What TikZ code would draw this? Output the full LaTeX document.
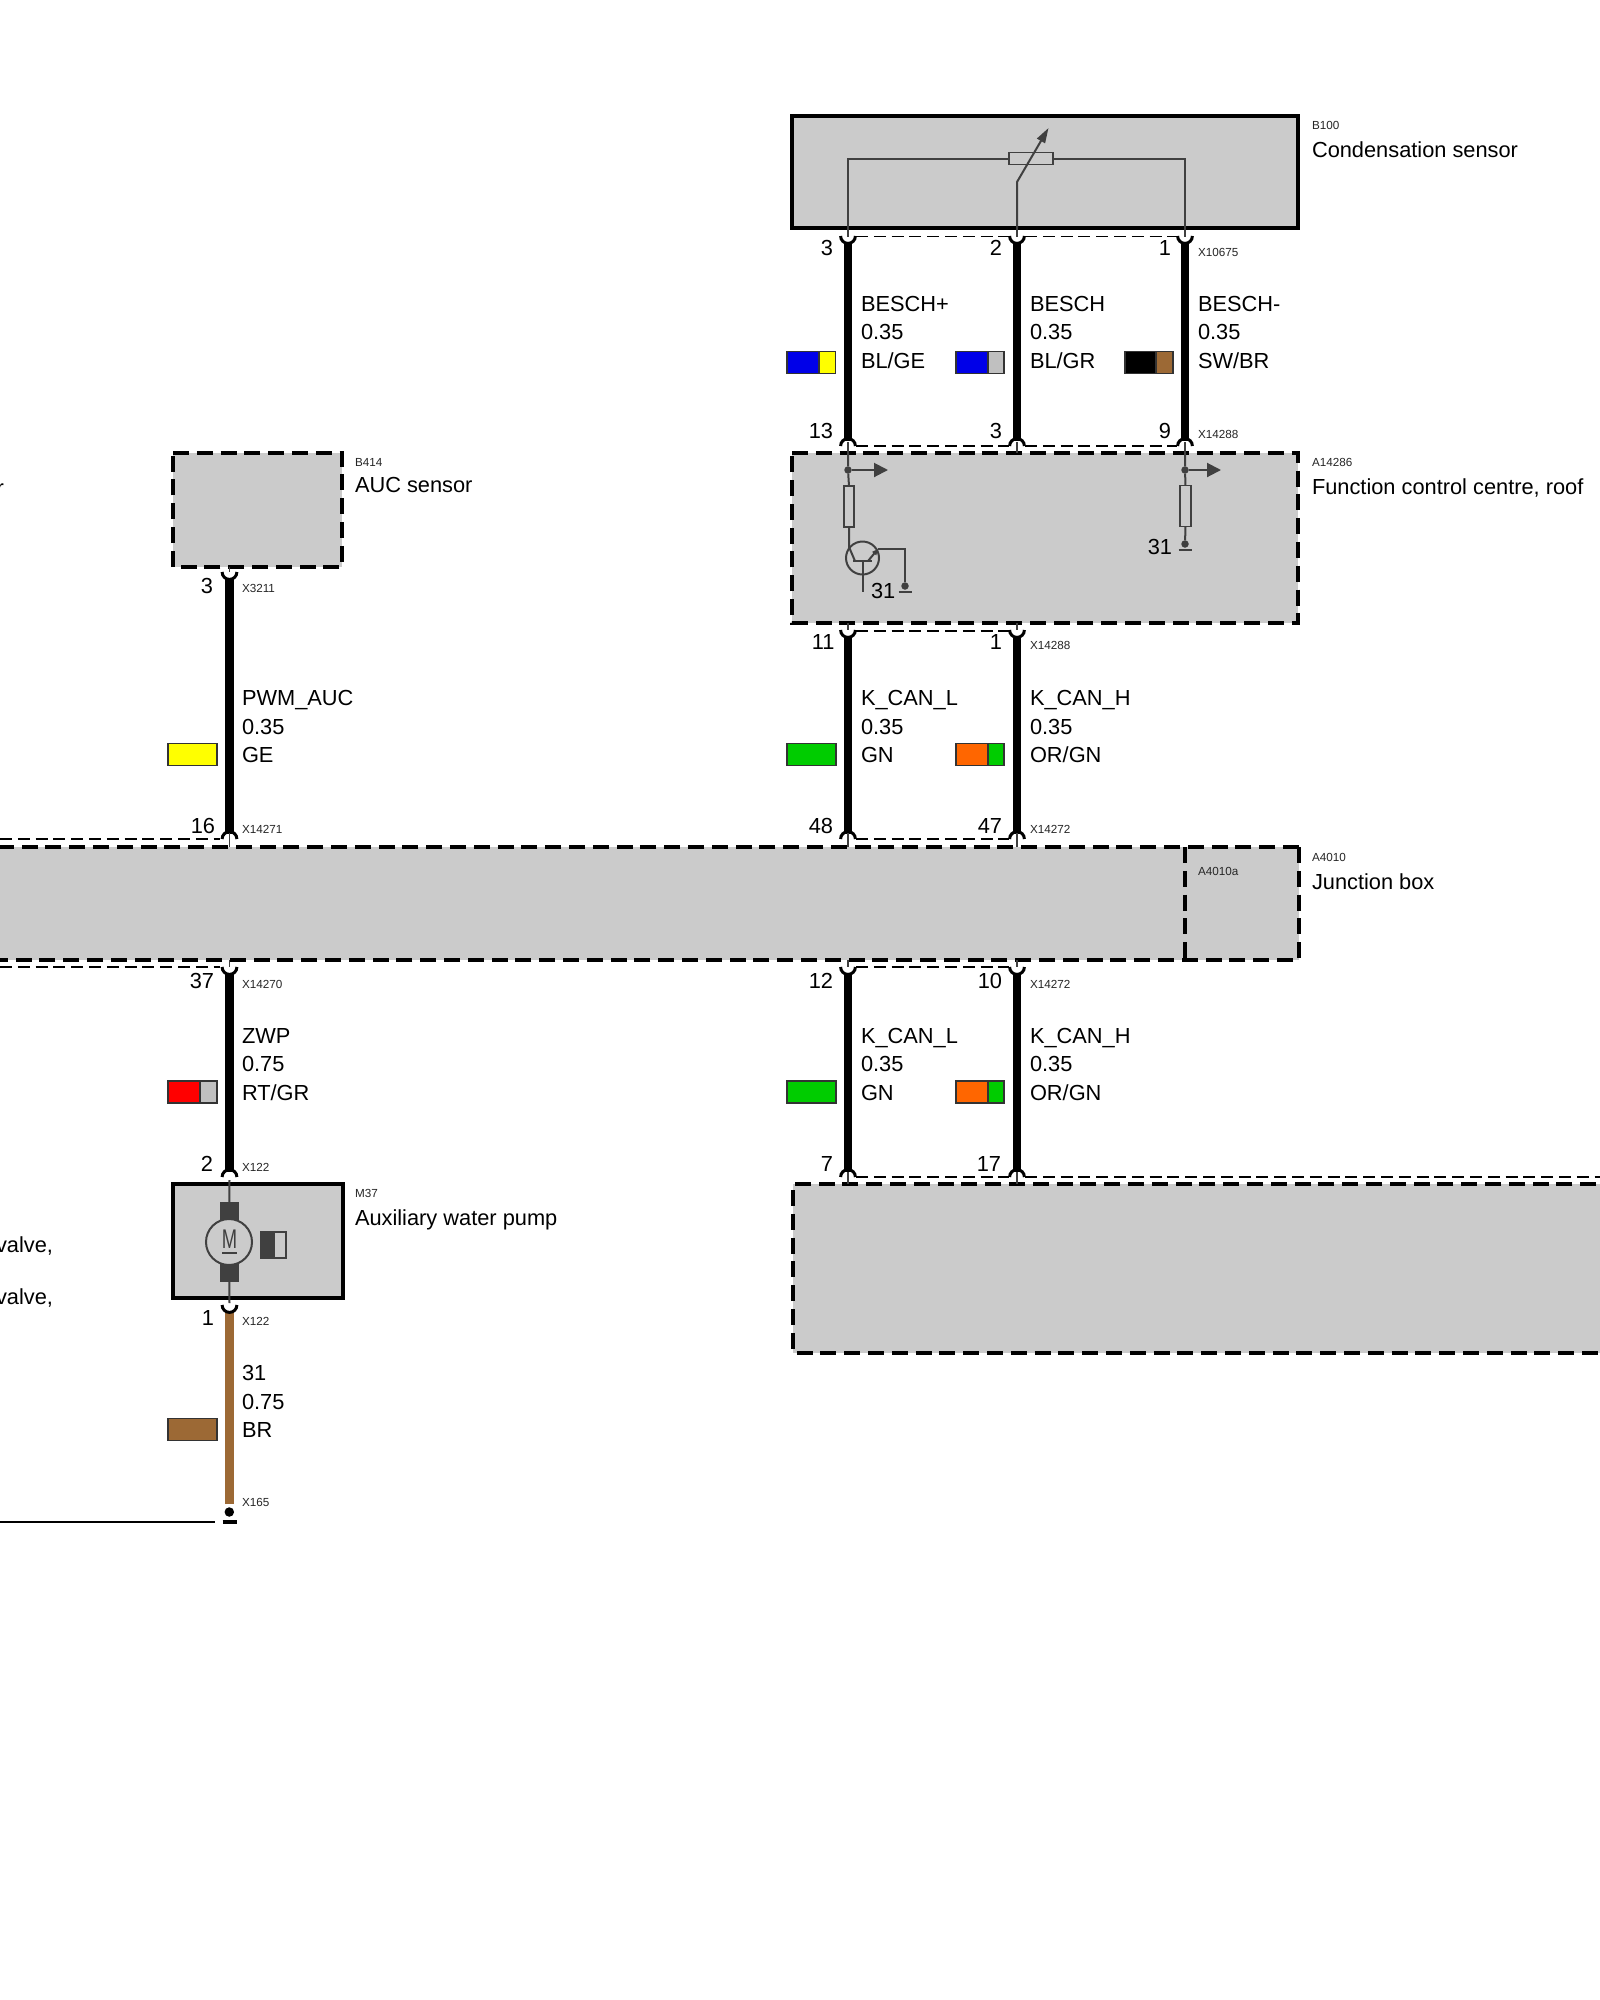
\documentclass[tikz,border=0pt]{standalone}
\usepackage{fontspec}
\setmainfont{Liberation Sans}
\usetikzlibrary{arrows.meta}
\definecolor{boxgray}{HTML}{CBCBCB}
\definecolor{ink}{HTML}{404040}
\definecolor{wbrown}{HTML}{9C6935}
\definecolor{wblue}{HTML}{0000E8}
\definecolor{wgreen}{HTML}{00CC00}
\definecolor{worange}{HTML}{FF6600}
\definecolor{wred}{HTML}{FF0000}
\definecolor{wyellow}{HTML}{FFFF00}
\definecolor{wgray}{HTML}{C0C0C0}
\tikzset{
  x=1pt,y=-1pt,
  solidbox/.style={draw=black,fill=boxgray,line width=4.4pt,anchor=north west,inner sep=0pt,outer sep=0pt},
  dashbox/.style={draw=none,fill=boxgray,anchor=north west,inner sep=0pt,outer sep=0pt},
  bdash/.style={draw=black,line width=4.4pt,dash pattern=on 16pt off 7.8pt},
  tdash/.style={draw=black,line width=1.7pt,dash pattern=on 12pt off 5.8pt},
  wire/.style={line width=8.2pt,draw=black},
  fine/.style={draw=ink,line width=2pt},
  lip/.style={draw=black,line width=3pt},
  big/.style={font=\fontsize{21.8}{28.4}\selectfont,inner sep=0pt,outer sep=0pt,anchor=base west,align=left},
  bigr/.style={font=\fontsize{21.8}{28.4}\selectfont,inner sep=0pt,outer sep=0pt,anchor=base east},
  small/.style={font=\fontsize{11.7}{13}\selectfont,inner sep=0pt,outer sep=0pt,anchor=base west,text=black!85},
  sw/.style={draw=black!80,line width=1.6pt},
  dotn/.style={circle,fill=ink,inner sep=0pt,minimum size=7.5pt,outer sep=0pt},
  flow/.style={fine,-{Triangle[length=14pt,width=14pt]}},
  res/.style={draw=ink,line width=1.8pt,fill=boxgray,inner sep=0pt,outer sep=0pt},
}
% pin openings below a part (cup) and above a part (cap)
\newcommand{\pincup}[1]{\draw[lip] ([xshift=-7.4pt]#1) arc[start angle=180,end angle=360,radius=7.4pt];}
\newcommand{\pincap}[1]{\draw[lip] ([xshift=-7.4pt]#1) arc[start angle=180,end angle=0,radius=7.4pt];}
% #1 name, #2 x, #3 y of cup centre, #4 y of cap centre, #5 colour
\newcommand{\run}[5]{%
  \coordinate (#1u) at (#2,#3); \coordinate (#1d) at (#2,#4);
  \coordinate (#1s) at (#2,#3+6); \coordinate (#1e) at (#2,#4-5);
  \draw[wire,draw=#5] (#1s) -- (#1e);
  \pincup{#1u} \pincap{#1d}}
% #1 left, #2 split, #3 right, #4 y centre, #5 #6 colours
\newcommand{\swatch}[6]{%
  \draw[sw,fill=#5] (#1,#4-11) rectangle (#2,#4+11);
  \draw[sw,fill=#6] (#2,#4-11) rectangle (#3,#4+11);}
\newcommand{\swatchone}[4]{\draw[sw,fill=#4] (#1,#3-11) rectangle (#2,#3+11);}
\newcommand{\gnd}[3]{% #1 name, #2 x, #3 y
  \node[dotn] (#1) at (#2,#3) {};
  \draw[draw=ink,line width=1.8pt] ([xshift=-6.5pt,yshift=-6pt]#1.center) -- ([xshift=6.5pt,yshift=-6pt]#1.center);}
\begin{document}
\begin{tikzpicture}
\useasboundingbox (0,0) rectangle (1600,2000);
\clip (0,0) rectangle (1600,2000);
\fill[white] (0,0) rectangle (1600,2000);

% ---------- parts
\node[solidbox,minimum width=506pt,minimum height=112pt] (b100) at (792,116) {};
\node[dashbox,minimum width=506pt,minimum height=170pt] (a14286) at (792,453) {};
\draw[bdash] (a14286.north west) -- (a14286.north east) -- (a14286.south east) -- (a14286.south west) -- cycle;
\node[dashbox,minimum width=169pt,minimum height=114pt] (b414) at (173,453) {};
\draw[bdash] (b414.north west) -- (b414.north east) -- (b414.south east) -- (b414.south west) -- cycle;
\node[dashbox,minimum width=1320pt,minimum height=113pt] (a4010) at (-21,847) {};
\draw[bdash] (a4010.north east) -- (a4010.south east) -- (a4010.south west);
\draw[bdash] (a4010.north east) -- (a4010.north west);
\coordinate (divt) at (1185,847); \coordinate (divb) at (1185,960);
\draw[bdash] (divt) -- (divb);
\node[solidbox,minimum width=170pt,minimum height=114pt] (m37) at (173,1184) {};
\node[dashbox,minimum width=827pt,minimum height=169pt] (lower) at (793,1184) {};
\draw[bdash] (lower.north east) -- (lower.north west) -- (lower.south west) -- (lower.south east);

% ---------- thin dashed connector outlines
\coordinate (d1a) at (856,236.5); \coordinate (d1b) at (1009,236.5);
\coordinate (d1c) at (1025,236.5); \coordinate (d1d) at (1177,236.5);
\draw[tdash] (d1a) -- (d1b); \draw[tdash] (d1c) -- (d1d);
\coordinate (d2a) at (856,446); \coordinate (d2b) at (1009,446);
\coordinate (d2c) at (1025,446); \coordinate (d2d) at (1177,446);
\draw[tdash] (d2a) -- (d2b); \draw[tdash] (d2c) -- (d2d);
\coordinate (d3a) at (856,631); \coordinate (d3b) at (1009,631);
\draw[tdash] (d3a) -- (d3b);
\coordinate (d4a) at (856,839); \coordinate (d4b) at (1009,839);
\draw[tdash] (d4a) -- (d4b);
\coordinate (d5a) at (856,967); \coordinate (d5b) at (1009,967);
\draw[tdash] (d5a) -- (d5b);
\coordinate (d6a) at (0,839); \coordinate (d6b) at (220,839);
\draw[tdash] (d6a) -- (d6b);
\coordinate (d7a) at (0,967); \coordinate (d7b) at (220,967);
\draw[tdash] (d7a) -- (d7b);
\coordinate (d8a) at (856,1177); \coordinate (d8b) at (1009,1177);
\coordinate (d8c) at (1025,1177); \coordinate (d8d) at (1600,1177);
\draw[tdash] (d8a) -- (d8b); \draw[tdash] (d8c) -- (d8d);

% ---------- harness wires
\run{w1}{848}{236}{446}{black}
\run{w2}{1017}{236}{446}{black}
\run{w3}{1185}{236}{446}{black}
\run{w4}{848}{630}{839}{black}
\run{w5}{1017}{630}{839}{black}
\run{w6}{229.5}{572}{839}{black}
\run{w7}{229.5}{967}{1177}{black}
\run{w8}{848}{967}{1177}{black}
\run{w9}{1017}{967}{1177}{black}
\coordinate (w10u) at (229.5,1305);
\coordinate (w10s) at (229.5,1312);
\coordinate (w10e) at (229.5,1504);
\draw[wire,draw=wbrown] (w10s) -- (w10e);
\pincup{w10u}

% ---------- stubs through the outlines
\foreach \a/\ya/\yb in {848/228/237,1017/228/237,1185/228/237,848/442/453,1017/442/453,1185/442/453,848/623/630,1017/623/630,229.5/567/572,229.5/833/847,848/833/847,1017/833/847,229.5/960/967,848/960/967,1017/960/967,848/1172/1184,1017/1172/1184}
  \draw[draw=ink,line width=1.5pt] (\a,\ya) -- (\a,\yb);

% ---------- B100 interior
\node[res,minimum width=44pt,minimum height=12pt] (rvar) at (1031,158.5) {};
\coordinate (p3) at (848,228); \coordinate (p3c) at (848,158.5);
\coordinate (p1) at (1185,228); \coordinate (p1c) at (1185,158.5);
\draw[fine] (p3) -- (p3c) -- (rvar.west);
\draw[fine] (p1) -- (p1c) -- (rvar.east);
\coordinate (p2) at (1017,228); \coordinate (p2k) at (1017,182); \coordinate (p2t) at (1048.5,128);
\draw[fine,-{Triangle[length=15pt,width=9pt]}] (p2) -- (p2k) -- (p2t);

% ---------- A14286 interior
\node[dotn] (jl) at (848,470) {};
\node[dotn] (jr) at (1185,470) {};
\coordinate (jlt) at (848,453); \coordinate (jrt) at (1185,453);
\coordinate (al) at (888,470); \coordinate (ar) at (1221,470);
\draw[flow] (jl) -- (al);
\draw[flow] (jr) -- (ar);
\node[res,minimum width=10.5pt,minimum height=41pt] (rl) at (849,506.5) {};
\node[res,minimum width=10.5pt,minimum height=41pt] (rr) at (1185.5,506) {};
\draw[fine] (jlt) -- (jl) -- (rl.north);
\draw[fine] (jrt) -- (jr) -- (rr.north);
\gnd{g1}{1185}{544}
\draw[fine] (rr.south) -- (g1);
\node[circle,draw=ink,line width=2pt,minimum size=33pt,inner sep=0pt,outer sep=0pt] (tr) at (862.5,558) {};
\coordinate (trc) at (849,547); \coordinate (trd) at (855,561);
\draw[fine] (rl.south) -- (trc) -- (trd);
\coordinate (bl) at (853,561); \coordinate (brr) at (872,561); \coordinate (bm) at (862.5,561); \coordinate (bb) at (862.5,592);
\draw[fine] (bl) -- (brr); \draw[fine] (bm) -- (bb);
\coordinate (em) at (868,561); \coordinate (et) at (878,549); \coordinate (ek) at (905,549);
\draw[fine,-{Triangle[length=6pt,width=5pt]}] (em) -- (et);
\gnd{g2}{905}{586}
\draw[fine] (et) -- (ek) -- (g2);

% ---------- M37 interior
\coordinate (mt) at (229.5,1184); \coordinate (mb) at (229.5,1298);
\node[fill=ink,minimum width=18.5pt,minimum height=20pt,inner sep=0pt,outer sep=0pt] (brt) at (229.3,1212) {};
\node[fill=ink,minimum width=18.5pt,minimum height=19pt,inner sep=0pt,outer sep=0pt] (brb) at (229.3,1272.5) {};
\coordinate (mtt) at (229.5,1180); \coordinate (mbb) at (229.5,1303);
\draw[fine] (mtt) -- (brt.north);
\draw[fine] (brb.south) -- (mbb);
\node[circle,draw=ink,fill=boxgray,line width=2pt,minimum size=46pt,inner sep=0pt,outer sep=0pt] (motor) at (229,1242) {};
\node[inner sep=0pt,outer sep=0pt,font=\fontsize{27}{27}\selectfont,text=ink,xscale=.68] (mm) at (229.5,1239.5) {M};
\coordinate (mul) at (222,1253); \coordinate (mur) at (237,1253);
\draw[draw=ink,line width=1.6pt] (mul) -- (mur);
\draw[draw=ink,line width=1.6pt,fill=ink] (261,1232) rectangle (274,1258);
\draw[draw=ink,line width=1.6pt] (274,1232) rectangle (286,1258);

% ---------- ground at the end of the brown wire
\node[circle,fill=black,inner sep=0pt,minimum size=9.5pt] (gx) at (229.3,1512) {};
\coordinate (gbl) at (222.5,1522); \coordinate (gbr) at (237,1522);
\draw[draw=black,line width=3.6pt] (gbl) -- (gbr);
\coordinate (gla) at (0,1522); \coordinate (glb) at (215,1522);
\draw[draw=black,line width=1.8pt] (gla) -- (glb);

% ---------- swatches
\swatch{787}{819}{835.5}{362.5}{wblue}{wyellow}
\swatch{956}{988}{1004}{362.5}{wblue}{wgray}
\swatch{1125}{1156}{1173}{362.5}{black}{wbrown}
\swatchone{168}{217}{754.5}{wyellow}
\swatchone{787}{836}{754.5}{wgreen}
\swatch{956}{988}{1004}{754.5}{worange}{wgreen}
\swatch{168}{200}{217}{1092}{wred}{wgray}
\swatchone{787}{836}{1092}{wgreen}
\swatch{956}{988}{1004}{1092}{worange}{wgreen}
\swatchone{168}{217}{1429.5}{wbrown}

% ---------- wire labels (y is the baseline of the last line)
\node[big] (l1) at (861,368.3) {BESCH+\\0.35\\BL/GE};
\node[big] (l2) at (1030,368.3) {BESCH\\0.35\\BL/GR};
\node[big] (l3) at (1198,368.3) {BESCH-\\0.35\\SW/BR};
\node[big] (l4) at (242,762.5) {PWM\_AUC\\0.35\\GE};
\node[big] (l5) at (861,762.5) {K\_CAN\_L\\0.35\\GN};
\node[big] (l6) at (1030,762.5) {K\_CAN\_H\\0.35\\OR/GN};
\node[big] (l7) at (242,1100) {ZWP\\0.75\\RT/GR};
\node[big] (l8) at (861,1100) {K\_CAN\_L\\0.35\\GN};
\node[big] (l9) at (1030,1100) {K\_CAN\_H\\0.35\\OR/GN};
\node[big] (l10) at (242,1437.5) {31\\0.75\\BR};

% ---------- pin numbers
\foreach \n/\t/\x/\y in {a/3/833/255.5,b/2/1002/255.5,c/1/1171/255.5,d/13/833/438.5,e/3/1002/438.5,f/9/1171/438.5,g/11/834.5/649.5,h/1/1002/649.5,i/3/213/593.5,j/16/215/833.5,k/48/833/833.5,m/47/1002/833.5,n/37/214/988.5,o/12/833/988.5,p/10/1002/988.5,q/2/213/1171.5,r/7/833/1171,s/17/1001/1171,t/1/214/1325.5,u/31/1172/554.5}
  \node[bigr] (pin\n) at (\x,\y) {\t};
\node[big] (pinv) at (871,598) {31};

% ---------- connector codes
\foreach \n/\t/\x/\y in {a/X10675/1198/256,b/X14288/1198/438,c/X3211/242/592,d/X14288/1030/649,e/X14271/242/833,f/X14272/1030/833,g/X14270/242/988,h/X14272/1030/988,i/X122/242/1171,j/X122/242/1325,k/X165/242/1506,m/A4010a/1198/875}
  \node[small] (code\n) at (\x,\y) {\t};

% ---------- part names
\node[small] (nb100) at (1312,129) {B100};
\node[big] (tb100) at (1312,157) {Condensation sensor};
\node[small] (na14286) at (1312,466) {A14286};
\node[big] (ta14286) at (1312,494) {Function control centre, roof};
\node[small] (nb414) at (355,466) {B414};
\node[big] (tb414) at (355,492) {AUC sensor};
\node[small] (na4010) at (1312,861) {A4010};
\node[big] (ta4010) at (1312,889.5) {Junction box};
\node[small] (nm37) at (355,1197) {M37};
\node[big] (tm37) at (355,1225) {Auxiliary water pump};

% ---------- texts cut by the left page edge
\node[bigr] (cut1) at (4,495) {r};
\node[bigr] (cut2) at (53,1252) {valve,};
\node[bigr] (cut3) at (53,1304) {valve,};
\end{tikzpicture}
\end{document}
